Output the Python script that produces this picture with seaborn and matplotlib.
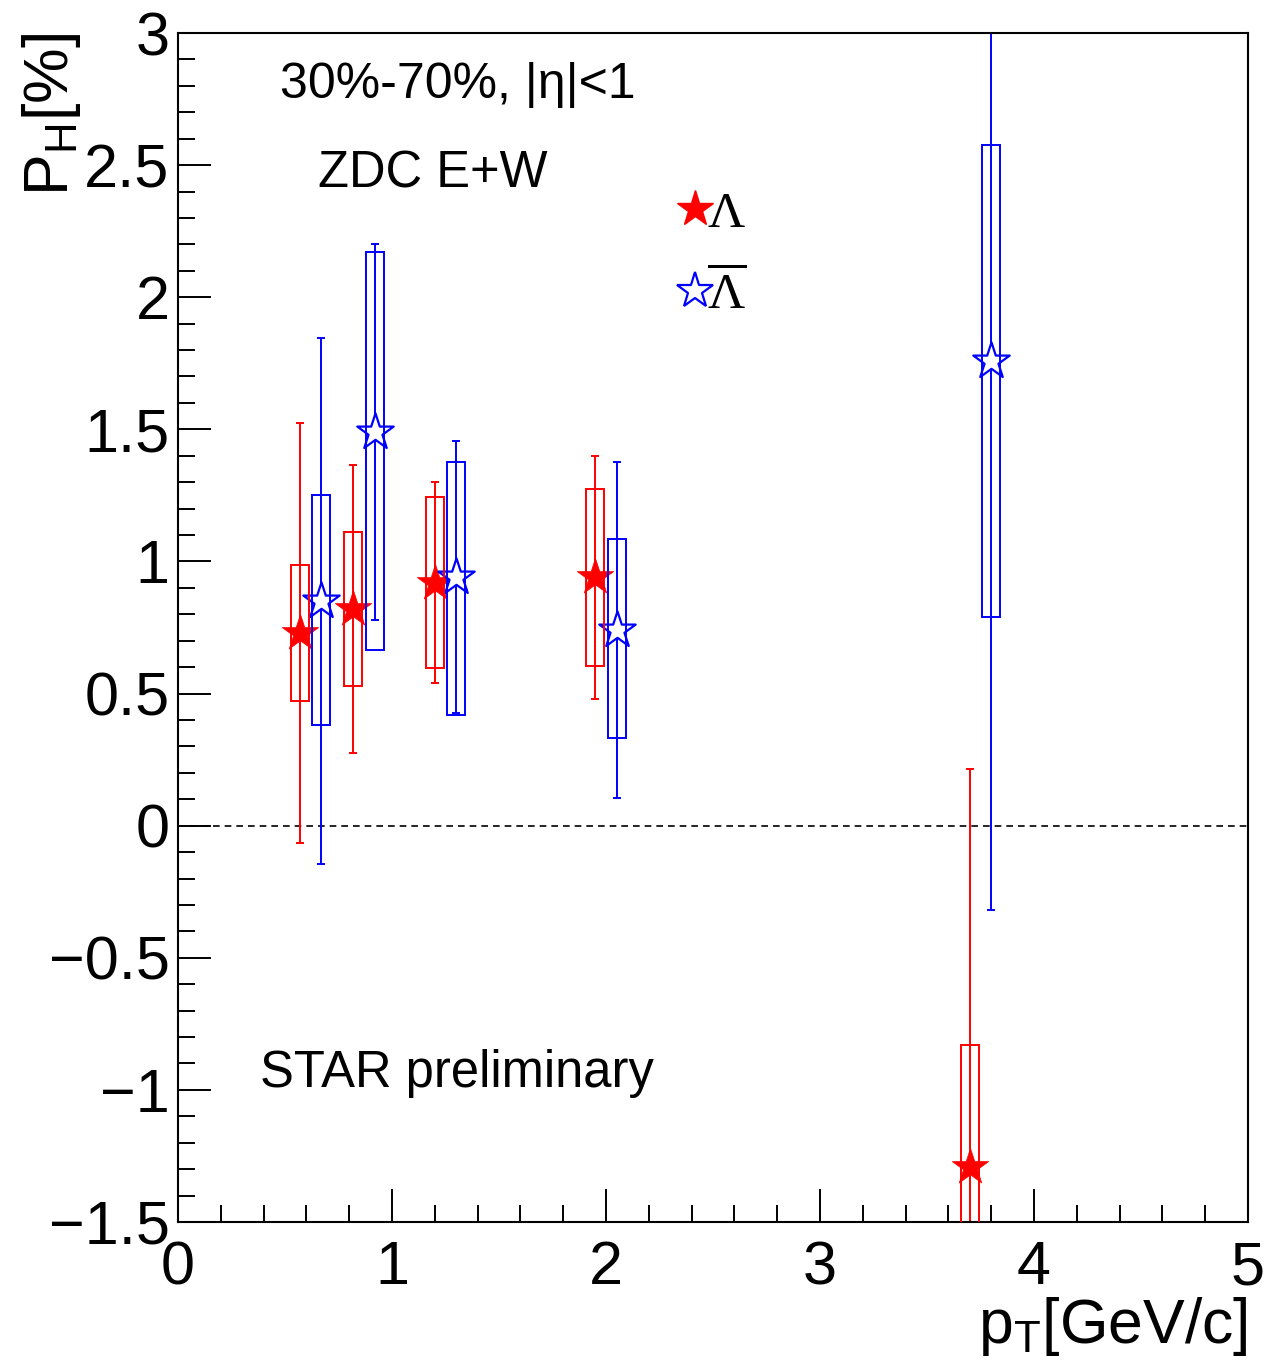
import numpy as np
import pandas as pd
import matplotlib
matplotlib.use("Agg")
import matplotlib.pyplot as plt
from matplotlib.patches import Rectangle
from matplotlib.lines import Line2D
from matplotlib.ticker import FixedLocator, AutoMinorLocator, FuncFormatter
from matplotlib.font_manager import FontProperties
import seaborn as sns

# Global polarization of Lambda / anti-Lambda vs pT, 30%-70% centrality
pt_lambda = [0.57, 0.82, 1.20, 1.95, 3.70]
ph_lambda = [0.73, 0.82, 0.92, 0.94, -1.29]
stat_lambda = [0.795, 0.545, 0.38, 0.46, 1.505]
sys_lo_lambda = [0.26, 0.29, 0.325, 0.335, 0.46]
sys_hi_lambda = [0.255, 0.29, 0.325, 0.335, 0.46]

pt_alambda = [0.67, 0.92, 1.30, 2.05, 3.80]
ph_alambda = [0.85, 1.49, 0.94, 0.74, 1.76]
stat_alambda = [0.995, 0.71, 0.515, 0.635, 2.08]
sys_lo_alambda = [0.47, 0.825, 0.52, 0.41, 0.97]
sys_hi_alambda = [0.40, 0.68, 0.435, 0.345, 0.815]

x_ticks = [0, 1, 2, 3, 4, 5]
y_ticks = [-1.5, -1, -0.5, 0, 0.5, 1, 1.5, 2, 2.5, 3]

sns.set_style("white")
plt.rcParams["font.family"] = ["Liberation Sans", "DejaVu Sans"]
plt.rcParams["mathtext.fontset"] = "custom"
plt.rcParams["mathtext.rm"] = "Liberation Sans"
plt.rcParams["mathtext.it"] = "Liberation Sans"
plt.rcParams["mathtext.bf"] = "Liberation Sans"
plt.rcParams["mathtext.default"] = "regular"
for key in ["text.color", "axes.labelcolor", "xtick.color", "ytick.color",
            "axes.edgecolor"]:
    plt.rcParams[key] = "black"

lam = pd.DataFrame({"pt": pt_lambda, "ph": ph_lambda, "stat": stat_lambda,
                    "lo": sys_lo_lambda, "hi": sys_hi_lambda})
alam = pd.DataFrame({"pt": pt_alambda, "ph": ph_alambda, "stat": stat_alambda,
                     "lo": sys_lo_alambda, "hi": sys_hi_alambda})

fig = plt.figure(figsize=(12.66, 13.72), dpi=100)
ax = fig.add_axes([178 / 1266, 150 / 1372, 1070 / 1266, 1189 / 1372])

ax.set_xlim(0, 5)
ax.set_ylim(-1.5, 3)

ax.axhline(0, color="black", lw=1.2, ls=(0, (4, 3)), zorder=1)

box_half = 0.042
lw = 1.4
for df, col, filled in [(lam, "red", True), (alam, "blue", False)]:
    ax.errorbar(df["pt"], df["ph"], yerr=df["stat"], fmt="none", ecolor=col,
                elinewidth=lw, capsize=2.6, capthick=lw, zorder=2)
    for _, r in df.iterrows():
        ax.add_patch(Rectangle((r["pt"] - box_half, r["ph"] - r["lo"]),
                               2 * box_half, r["lo"] + r["hi"], fill=False,
                               edgecolor=col, lw=lw, zorder=4))
    if filled:
        sns.scatterplot(data=df, x="pt", y="ph", ax=ax, marker="*", s=760,
                        color=col, edgecolor=col, linewidth=0.5, zorder=3,
                        legend=False)
    else:
        sns.scatterplot(data=df, x="pt", y="ph", ax=ax, marker="*", s=760,
                        color=col, facecolor="white", edgecolor=col,
                        linewidth=1.6, zorder=3, legend=False)

# axes styling
for sp in ax.spines.values():
    sp.set_linewidth(1.5)
    sp.set_color("black")
ax.xaxis.set_major_locator(FixedLocator(x_ticks))
ax.yaxis.set_major_locator(FixedLocator(y_ticks))
ax.xaxis.set_minor_locator(AutoMinorLocator(5))
ax.yaxis.set_minor_locator(AutoMinorLocator(5))
fmt = FuncFormatter(lambda v, p: ("%g" % v).replace("-", "\u2212"))
ax.xaxis.set_major_formatter(fmt)
ax.yaxis.set_major_formatter(fmt)
ax.tick_params(which="both", direction="in", bottom=True, left=True,
               top=False, right=False, width=1.4, color="black",
               labelcolor="black", labelsize=44)
ax.tick_params(which="major", length=24)
ax.tick_params(which="minor", length=12)
ax.tick_params(axis="x", which="major", pad=13)
ax.tick_params(axis="y", which="major", pad=6)

ax.set_xlabel(r"p$_{T}$[GeV/c]", fontsize=45, loc="right")
ax.xaxis.label.set_va("baseline")
ax.xaxis.set_label_coords(1.0, -0.102)
ax.set_ylabel(r"P$_{H}$[%]", fontsize=45, loc="top")
ax.yaxis.label.set_va("baseline")
ax.yaxis.set_label_coords(-0.103, 1.0)

ax.text(0.095, 0.945, "30%-70%, |η|<1", transform=ax.transAxes,
        fontsize=36, va="baseline", ha="left")
ax.text(0.131, 0.870, "ZDC E+W", transform=ax.transAxes,
        fontsize=36.5, va="baseline", ha="left")
ax.text(0.077, 0.1135, "STAR preliminary", transform=ax.transAxes,
        fontsize=36.5, va="baseline", ha="left")

handles = [
    Line2D([], [], ls="", marker="*", ms=27, color="red", mec="red"),
    Line2D([], [], ls="", marker="*", ms=27, mfc="white", mec="blue",
           mew=1.6),
]
leg_font = FontProperties(family="Liberation Serif", size=37,
                          math_fontfamily="stix")
ax.legend(handles, [r"$\Lambda$", r"$\overline{\Lambda}$"], prop=leg_font,
          frameon=False, loc="center left", bbox_to_anchor=(0.4636, 0.813),
          handlelength=0.8, handletextpad=-0.15, borderpad=0,
          borderaxespad=0, labelspacing=0.6)

fig.savefig("out.png", dpi=100)
